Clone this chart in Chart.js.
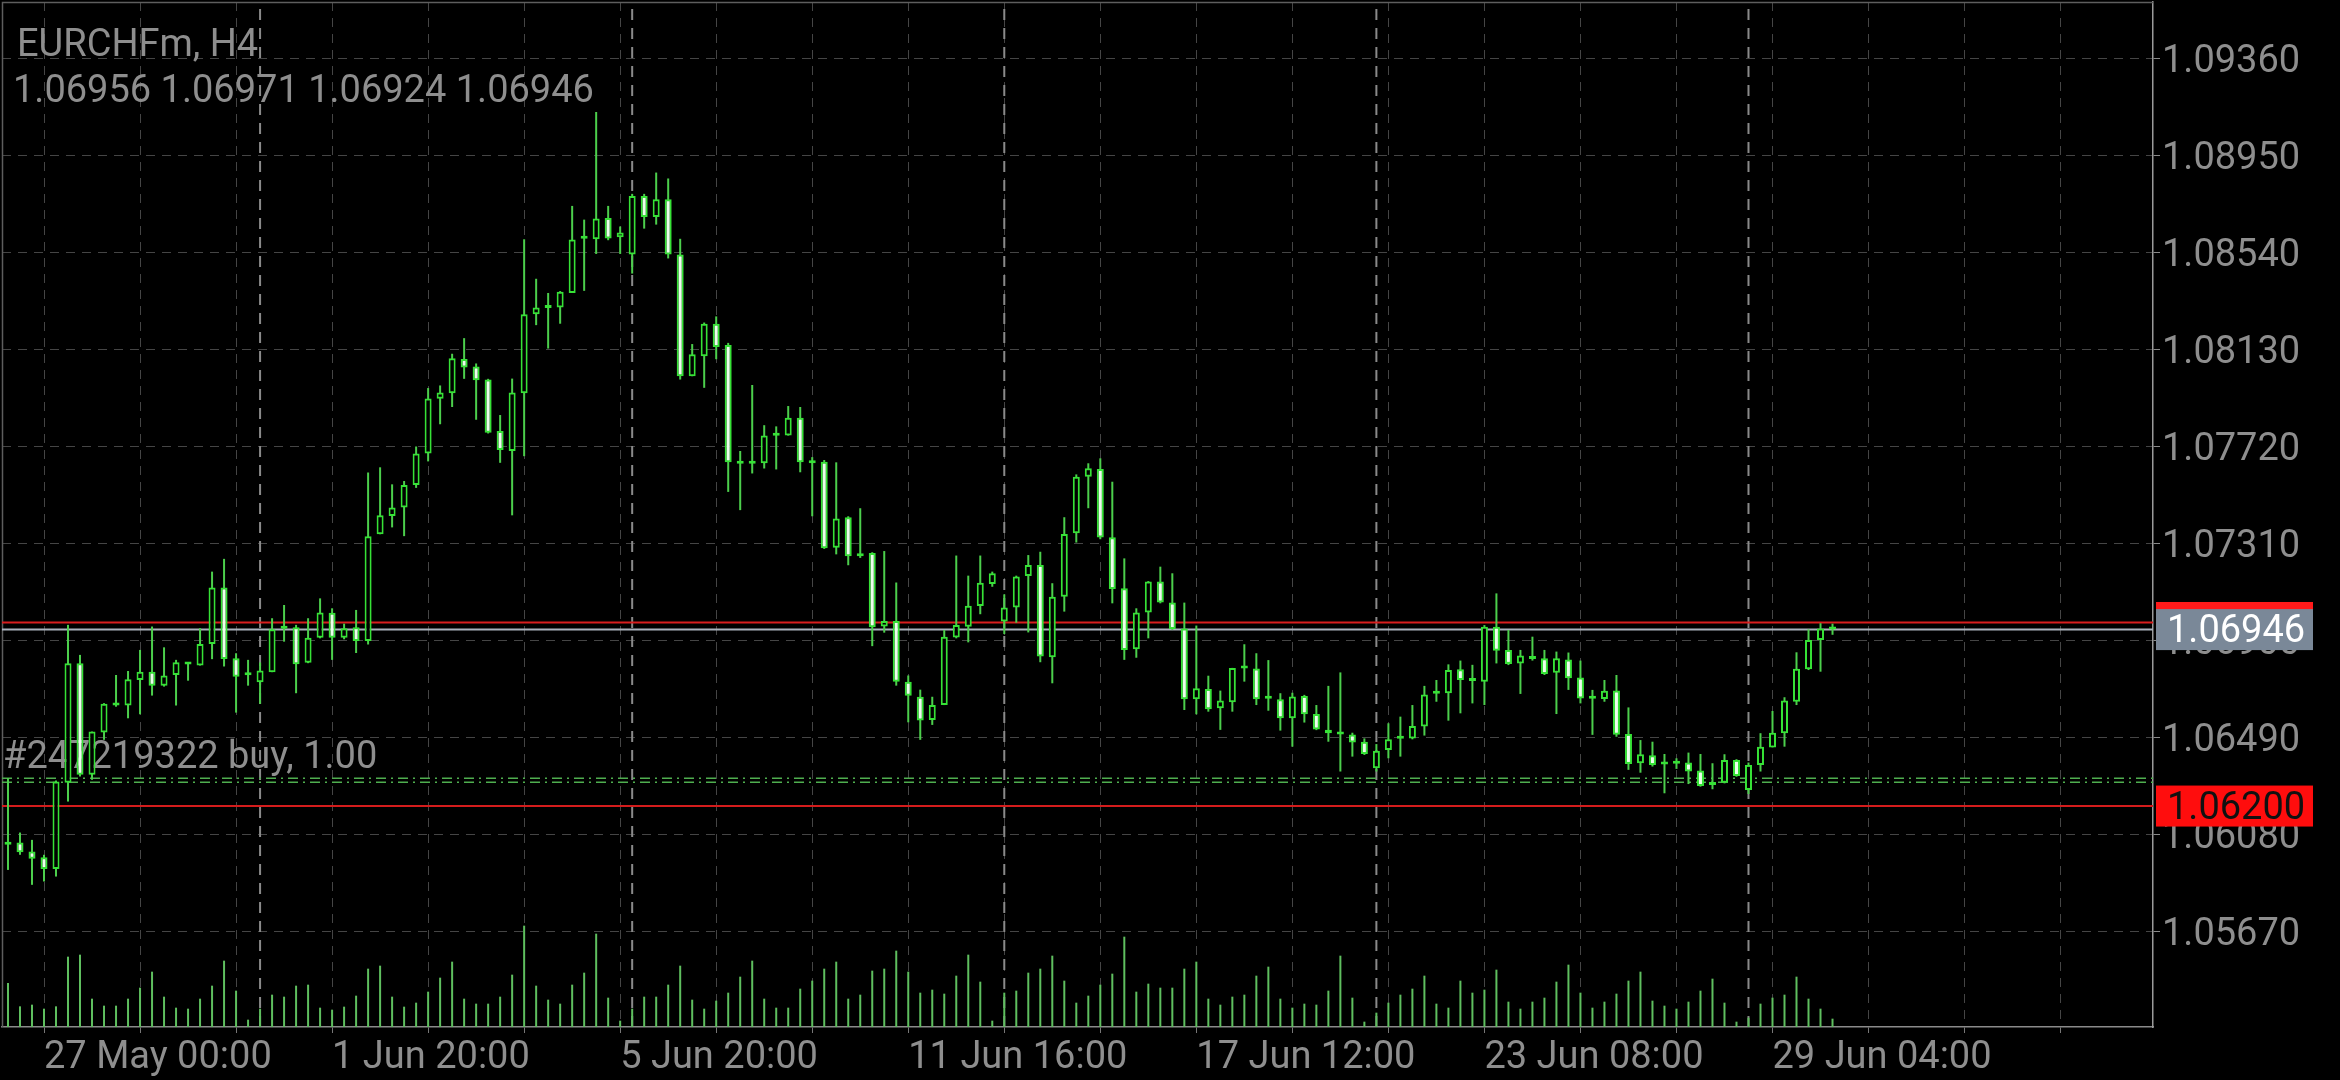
<!DOCTYPE html>
<html>
<head>
<meta charset="utf-8">
<title>EURCHFm, H4</title>
<script src="https://cdn.jsdelivr.net/npm/chart.js@4.4.1/dist/chart.umd.min.js"></script>
<style>
  html, body { margin: 0; padding: 0; background: #000; }
  #wrap { position: relative; width: 2340px; height: 1080px; }
</style>
</head>
<body>
<div id="wrap"><canvas id="chart"></canvas></div>
<script>
// EURCHFm H4 bars, 26 May 12:00 .. 30 Jun 00:00
const symbolTitle = 'EURCHFm, H4';
const lastBarText = '1.06956 1.06971 1.06924 1.06946';
const positionLabel = '#247219322 buy, 1.00';

const barOpen = [
  1.06036,1.06046,1.06008,1.05984,1.05934,1.06299,1.06804,1.06332,1.06511,1.06625,
  1.06625,1.06733,1.06768,1.06709,1.06754,1.06798,1.06794,1.06885,1.07124,1.06825,
  1.06757,1.06723,1.06766,1.06953,1.06956,1.06806,1.06912,1.07017,1.06912,1.06956,
  1.06898,1.07349,1.07426,1.07462,1.07557,1.07690,1.07922,1.07945,1.08090,1.08058,
  1.08003,1.07785,1.07701,1.07945,1.08279,1.08305,1.08308,1.08369,1.08598,1.08596,
  1.08686,1.08604,1.08532,1.08779,1.08690,1.08765,1.08532,1.08017,1.08101,1.08239,
  1.08149,1.07651,1.07647,1.07649,1.07765,1.07766,1.07842,1.07653,1.07655,1.07292,
  1.07421,1.07259,1.07270,1.06959,1.06982,1.06726,1.06662,1.06564,1.06627,1.06913,
  1.06958,1.07046,1.07139,1.06980,1.07039,1.07173,1.07219,1.06829,1.07085,1.07353,
  1.07592,1.07625,1.07336,1.07121,1.06863,1.07018,1.07149,1.07060,1.06951,1.06651,
  1.06695,1.06613,1.06639,1.06781,1.06782,1.06657,1.06651,1.06571,1.06665,1.06589,
  1.06523,1.06506,1.06503,1.06472,1.06360,1.06437,1.06484,1.06486,1.06536,1.06675,
  1.06677,1.06778,1.06729,1.06726,1.06958,1.06860,1.06803,1.06827,1.06825,1.06764,
  1.06820,1.06743,1.06657,1.06653,1.06688,1.06505,1.06381,1.06415,1.06379,1.06381,
  1.06384,1.06350,1.06289,1.06299,1.06395,1.06268,1.06374,1.06448,1.06508,1.06641,
  1.06778,1.06902,1.06956
];
const barHigh = [
  1.06318,1.06088,1.06057,1.05994,1.06308,1.06966,1.06839,1.06515,1.06635,1.06754,
  1.06771,1.06860,1.06959,1.06871,1.06818,1.06804,1.06952,1.07191,1.07245,1.06846,
  1.06818,1.06807,1.06994,1.07050,1.06966,1.06994,1.07078,1.07036,1.06971,1.07029,
  1.07610,1.07632,1.07560,1.07574,1.07720,1.07967,1.07978,1.08112,1.08178,1.08071,
  1.08006,1.07853,1.08007,1.08596,1.08429,1.08369,1.08377,1.08737,1.08679,1.09134,
  1.08737,1.08650,1.08788,1.08788,1.08878,1.08853,1.08598,1.08153,1.08244,1.08270,
  1.08158,1.07701,1.07980,1.07810,1.07805,1.07891,1.07887,1.07675,1.07663,1.07653,
  1.07425,1.07459,1.07273,1.07278,1.07145,1.06752,1.06692,1.06662,1.06944,1.07259,
  1.07174,1.07259,1.07191,1.07095,1.07174,1.07261,1.07275,1.07142,1.07421,1.07602,
  1.07649,1.07670,1.07571,1.07247,1.07036,1.07151,1.07212,1.07184,1.07060,1.06963,
  1.06751,1.06688,1.06784,1.06884,1.06846,1.06817,1.06677,1.06679,1.06670,1.06627,
  1.06708,1.06765,1.06510,1.06486,1.06462,1.06550,1.06578,1.06627,1.06708,1.06733,
  1.06799,1.06815,1.06797,1.06965,1.07099,1.06944,1.06860,1.06916,1.06860,1.06853,
  1.06849,1.06815,1.06691,1.06733,1.06754,1.06617,1.06479,1.06472,1.06420,1.06402,
  1.06426,1.06420,1.06381,1.06419,1.06398,1.06384,1.06508,1.06602,1.06660,1.06850,
  1.06947,1.06973,1.06971
];
const barLow = [
  1.05930,1.05994,1.05867,1.05881,1.05902,1.06219,1.06325,1.06311,1.06480,1.06620,
  1.06571,1.06588,1.06667,1.06705,1.06625,1.06730,1.06794,1.06821,1.06790,1.06595,
  1.06709,1.06632,1.06766,1.06895,1.06677,1.06804,1.06909,1.06818,1.06905,1.06847,
  1.06883,1.07349,1.07378,1.07341,1.07545,1.07657,1.07814,1.07887,1.08006,1.07833,
  1.07775,1.07651,1.07429,1.07679,1.08233,1.08134,1.08239,1.08369,1.08378,1.08534,
  1.08592,1.08534,1.08451,1.08641,1.08658,1.08515,1.08003,1.08017,1.07968,1.08089,
  1.07528,1.07451,1.07606,1.07627,1.07623,1.07766,1.07611,1.07425,1.07287,1.07264,
  1.07218,1.07249,1.06876,1.06933,1.06709,1.06554,1.06480,1.06543,1.06627,1.06909,
  1.06892,1.07011,1.07127,1.06927,1.06975,1.06934,1.06808,1.06719,1.07022,1.07314,
  1.07459,1.07328,1.07057,1.06818,1.06827,1.06909,1.07057,1.06944,1.06606,1.06588,
  1.06599,1.06522,1.06599,1.06726,1.06627,1.06603,1.06519,1.06451,1.06553,1.06521,
  1.06472,1.06346,1.06409,1.06416,1.06346,1.06402,1.06409,1.06482,1.06498,1.06641,
  1.06561,1.06592,1.06634,1.06627,1.06803,1.06796,1.06674,1.06815,1.06754,1.06589,
  1.06691,1.06634,1.06501,1.06641,1.06493,1.06353,1.06341,1.06367,1.06254,1.06357,
  1.06293,1.06282,1.06271,1.06296,1.06324,1.06251,1.06346,1.06448,1.06451,1.06627,
  1.06775,1.06768,1.06924
];
const barClose = [
  1.06043,1.06005,1.05977,1.05934,1.06304,1.06804,1.06332,1.06515,1.06632,1.06628,
  1.06736,1.06768,1.06709,1.06752,1.06808,1.06801,1.06885,1.07124,1.06822,1.06747,
  1.06753,1.06773,1.06947,1.06950,1.06799,1.06912,1.07018,1.06912,1.06952,1.06898,
  1.07341,1.07429,1.07462,1.07557,1.07690,1.07923,1.07948,1.08093,1.08054,1.08000,
  1.07778,1.07705,1.07948,1.08279,1.08308,1.08310,1.08374,1.08595,1.08602,1.08684,
  1.08599,1.08625,1.08779,1.08690,1.08765,1.08532,1.08017,1.08110,1.08239,1.08141,
  1.07653,1.07647,1.07651,1.07766,1.07768,1.07842,1.07653,1.07649,1.07290,1.07416,
  1.07256,1.07256,1.06956,1.06982,1.06726,1.06666,1.06562,1.06627,1.06916,1.06965,
  1.07047,1.07144,1.07184,1.07039,1.07170,1.07219,1.06832,1.07085,1.07350,1.07592,
  1.07628,1.07335,1.07118,1.06860,1.07018,1.07149,1.07060,1.06948,1.06651,1.06698,
  1.06609,1.06646,1.06784,1.06784,1.06651,1.06654,1.06571,1.06663,1.06588,1.06524,
  1.06508,1.06503,1.06469,1.06420,1.06434,1.06482,1.06489,1.06538,1.06672,1.06678,
  1.06775,1.06733,1.06732,1.06958,1.06856,1.06801,1.06836,1.06822,1.06758,1.06825,
  1.06740,1.06655,1.06654,1.06687,1.06501,1.06378,1.06419,1.06374,1.06376,1.06379,
  1.06346,1.06285,1.06302,1.06395,1.06327,1.06374,1.06451,1.06510,1.06646,1.06780,
  1.06902,1.06951,1.06946
];
const tickVolume = [
  132,62,67,55,62,211,217,85,64,64,85,118,166,91,58,55,85,124,199,109,
  22,55,97,91,124,127,58,52,61,94,175,184,91,61,73,106,148,196,85,70,
  70,91,157,304,124,82,70,127,163,280,88,19,55,91,91,127,184,82,55,79,
  103,151,199,85,58,58,115,139,175,196,85,97,169,175,229,166,103,112,100,154,
  217,136,19,103,109,163,175,214,139,73,94,127,160,271,106,130,118,118,175,196,
  85,67,91,97,154,181,85,58,70,67,109,214,88,16,43,73,97,115,154,70,
  58,139,103,112,172,76,55,76,88,136,187,103,58,76,100,139,166,79,64,55,
  76,109,145,73,16,28,70,88,97,151,85,55,25
];

// axes
const priceTicks = [1.05670, 1.06080, 1.06490, 1.06900, 1.07310, 1.07720, 1.08130, 1.08540, 1.08950, 1.09360];
const gridBars = [3, 11, 19, 27, 35, 43, 51, 59, 67, 75, 83, 91, 99, 107, 115, 123, 131, 139, 147, 155, 163, 171];
const timeTickBars = [3, 27, 51, 75, 99, 123, 147];
const timeTickLabels = ['27 May 00:00', '1 Jun 20:00', '5 Jun 20:00', '11 Jun 16:00', '17 Jun 12:00', '23 Jun 08:00', '29 Jun 04:00'];
const weekStartBars = [21, 52, 83, 114, 145];

// trade levels
const bidPrice = 1.06946;
const askPrice = 1.06976;
const stopLossPrice = 1.06200;
const positionLines = [1.06318, 1.06301];

const xMin = -0.5, xMax = 178.7;
const yMin = 1.05266, yMax = 1.09599;

const GREEN = '#36e236';
const WICK = '#4ccf4c';
const TEXT = '#8e8e8e';
const FONT = 'Roboto, "Noto Sans", sans-serif';
const FONT_SIZE = 38;

const idx = barOpen.map((_, i) => i);

function hLine(price, color, width, dash) {
  return {
    type: 'line', order: 5,
    data: [{x: xMin, y: price}, {x: xMax, y: price}],
    borderColor: color, borderWidth: width, borderDash: dash || [],
    pointRadius: 0, fill: false, tension: 0
  };
}

const datasets = [];

// week separators
weekStartBars.forEach(b => datasets.push({
  type: 'line', order: 7,
  data: [{x: b, y: yMin}, {x: b, y: yMax}],
  borderColor: '#8a8a8a', borderWidth: 2, borderDash: [11, 8],
  pointRadius: 0, fill: false
}));

// volume
datasets.push({
  type: 'bar', order: 6, yAxisID: 'yVol', grouped: false,
  data: idx.map(i => ({x: i, y: tickVolume[i]})),
  backgroundColor: '#5fbf5f', barThickness: 2, inflateAmount: 0
});

// price lines
datasets.push(hLine(stopLossPrice, '#d41c1c', 2));
positionLines.forEach(p => datasets.push(hLine(p, '#4fae4f', 1.5, [10, 5, 2, 5])));
datasets.push(hLine(askPrice, '#d81e1e', 2));
datasets.push(hLine(bidPrice, '#a9b1bc', 2));

// wicks
datasets.push({
  type: 'bar', order: 3, grouped: false,
  data: idx.map(i => ({x: i, y: [barLow[i], barHigh[i]]})),
  backgroundColor: WICK, barThickness: 2, inflateAmount: 0, borderWidth: 0
});

// bodies
datasets.push({
  type: 'bar', order: 1, grouped: false,
  data: idx.map(i => ({x: i, y: [barOpen[i], barClose[i]]})),
  backgroundColor: ctx => barClose[ctx.dataIndex] >= barOpen[ctx.dataIndex] ? '#000000' : '#ecffec',
  borderColor: GREEN, borderWidth: 2, borderSkipped: false,
  barThickness: 7, minBarLength: 3, inflateAmount: 0
});

const overlay = {
  id: 'terminalOverlay',
  beforeDraw(chart) {
    // nudge tick labels so digits sit centred on their ticks
    chart.scales.y.getLabelItems().forEach(it => { it.options.translation[1] += 4; });
    chart.scales.x.getLabelItems().forEach(it => { it.options.translation[1] += 3; });
  },
  beforeDatasetsDraw(chart) {
    const {ctx, chartArea: a, scales: {y}} = chart;
    ctx.save();
    ctx.strokeStyle = '#5e5e5e';
    ctx.lineWidth = 1.5;
    ctx.beginPath();
    ctx.moveTo(a.left + 0.5, a.bottom);
    ctx.lineTo(a.left + 0.5, a.top + 0.5);
    ctx.lineTo(a.right, a.top + 0.5);
    ctx.stroke();
    ctx.font = FONT_SIZE + 'px ' + FONT;
    ctx.fillStyle = TEXT;
    ctx.textBaseline = 'middle';
    ctx.textAlign = 'left';
    ctx.fillText(positionLabel, a.left + 1, y.getPixelForValue(positionLines[0]) - 20);
    ctx.restore();
  },
  afterDraw(chart) {
    const {ctx, chartArea: a, scales: {y}} = chart;
    ctx.save();
    ctx.font = FONT_SIZE + 'px ' + FONT;
    ctx.textBaseline = 'middle';
    ctx.textAlign = 'left';
    ctx.fillStyle = TEXT;
    ctx.fillText(symbolTitle, a.left + 15, a.top + 44);
    ctx.fillText(lastBarText, a.left + 11, a.top + 90);

    const tag = (price, bg, fg) => {
      const py = y.getPixelForValue(price);
      ctx.fillStyle = bg;
      ctx.fillRect(a.right + 3, py - 20.5, 157, 41);
      if (fg) {
        ctx.fillStyle = fg;
        ctx.fillText(price.toFixed(5), a.right + 14, py + 3);
      }
    };
    tag(askPrice, '#ff1a1a', null);   // ask label sits under the bid label
    tag(stopLossPrice, '#ff0d0d', '#111111');
    tag(bidPrice, '#7a8898', '#ffffff');
    ctx.restore();
  }
};

new Chart(document.getElementById('chart'), {
  type: 'bar',
  data: { datasets },
  options: {
    responsive: true,
    maintainAspectRatio: false,
    devicePixelRatio: 1,
    animation: false,
    events: [],
    layout: { padding: { left: 2, top: 2, right: 0, bottom: 0 } },
    plugins: { legend: { display: false }, tooltip: { enabled: false } },
    scales: {
      x: {
        type: 'linear', min: xMin, max: xMax, offset: false,
        afterBuildTicks: s => { s.ticks = gridBars.map(v => ({value: v})); },
        afterFit: s => { s.height = 53; s.paddingLeft = 0; s.paddingRight = 0; },
        grid: { color: '#454545', lineWidth: 1, offset: false, tickLength: 6, tickColor: '#777' },
        border: { display: true, color: '#8a8a8a', width: 1.5, dash: [9, 7] },
        ticks: {
          autoSkip: false, maxRotation: 0, align: 'start', padding: 0,
          color: TEXT, font: { family: FONT, size: FONT_SIZE },
          callback: v => { const k = timeTickBars.indexOf(v); return k >= 0 ? timeTickLabels[k] : ''; }
        }
      },
      y: {
        type: 'linear', position: 'right', min: yMin, max: yMax, beginAtZero: false,
        afterBuildTicks: s => { s.ticks = priceTicks.map(v => ({value: v})); },
        afterFit: s => { s.width = 187; s.paddingTop = 0; s.paddingBottom = 0; },
        grid: { color: '#454545', lineWidth: 1, tickLength: 7, tickColor: '#8a8a8a' },
        border: { display: true, color: '#9a9a9a', width: 1.5, dash: [9, 7] },
        ticks: {
          padding: 2, color: TEXT, font: { family: FONT, size: FONT_SIZE },
          callback: v => v.toFixed(5)
        }
      },
      yVol: {
        type: 'linear', display: false, min: 0, max: 3075
      }
    }
  },
  plugins: [overlay]
});
</script>
</body>
</html>
